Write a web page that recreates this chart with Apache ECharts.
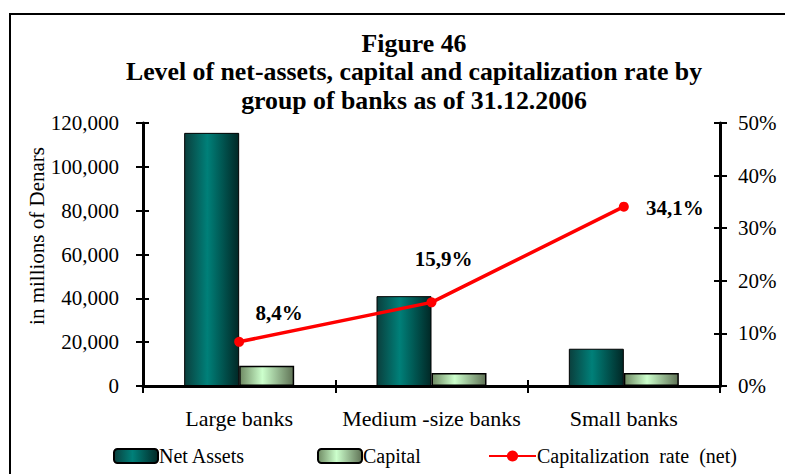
<!DOCTYPE html>
<html>
<head>
<meta charset="utf-8">
<script src="https://cdn.jsdelivr.net/npm/echarts@6/dist/echarts.min.js"></script>
<style>
  html, body { margin: 0; padding: 0; background: #fff; }
  #chart { width: 785px; height: 474px; }
</style>
</head>
<body>
<div id="chart"></div>
<script>
// data
var categories = ["Large banks", "Medium -size banks", "Small banks"];
var netAssets = [115500, 41000, 17000];
var capital = [9200, 5900, 5900];
var capRate = [8.4, 15.9, 34.1];
var rateLabelOffsets = [[40, -29], [12, -43], [51, 1]];

var serif = "'Liberation Serif', 'Times New Roman', serif";

var myChart = echarts.init(document.getElementById("chart"), null, { renderer: "svg" });

// horizontal gradient gives the cylinder look of the original bars
function shade(edgeL, mid, edgeR) {
  return new echarts.graphic.LinearGradient(0, 0, 1, 0, [
    { offset: 0, color: edgeL },
    { offset: 0.42, color: mid },
    { offset: 1, color: edgeR }
  ]);
}

var axisLineStyle = { show: true, lineStyle: { color: "#000", width: 3 } };
var tickStyle = { color: "#000", width: 2 };

var option = {
  backgroundColor: "#fff",
  animation: false,
  textStyle: { fontFamily: serif },
  graphic: [
    {
      type: "rect",
      shape: { x: 10, y: 14, width: 800, height: 480 },
      style: { fill: "none", stroke: "#000", lineWidth: 2 }
    },
    {
      type: "text",
      x: 414, y: 29,
      style: {
        text: "Figure 46\nLevel of net-assets, capital and capitalization rate by\ngroup of banks as of 31.12.2006",
        fontFamily: serif, fontSize: 25.8, fontWeight: "bold", fill: "#000",
        align: "center", verticalAlign: "top", lineHeight: 28.5
      }
    },
    {
      type: "text",
      x: 37, y: 236,
      rotation: Math.PI / 2,
      style: {
        text: "in millions of Denars",
        fontFamily: serif, fontSize: 21, fill: "#000",
        align: "center", verticalAlign: "middle"
      }
    }
  ],
  grid: { left: 143, right: 65, top: 123, bottom: 88 },
  legend: [
    {
      left: 108, top: 441, itemWidth: 44, itemHeight: 14,
      data: ["Net Assets"],
      textStyle: { fontFamily: serif, fontSize: 20, color: "#000", padding: [0, 0, 0, -4] }
    },
    {
      left: 312, top: 441, itemWidth: 44, itemHeight: 14,
      data: ["Capital"],
      textStyle: { fontFamily: serif, fontSize: 20, color: "#000", padding: [0, 0, 0, -4] }
    },
    {
      left: 483, top: 441, itemWidth: 47, itemHeight: 14,
      data: ["Capitalization  rate  (net)"],
      textStyle: { fontFamily: serif, fontSize: 20, color: "#000", padding: [0, 0, 0, -4] }
    }
  ],
  xAxis: [
    {
      type: "category",
      data: categories,
      axisLine: axisLineStyle,
      axisTick: { show: true, length: 7, lineStyle: tickStyle },
      axisLabel: { fontFamily: serif, fontSize: 22, color: "#000", margin: 21, interval: 0, hideOverlap: false }
    },
    {
      type: "category",
      data: categories,
      position: "bottom",
      axisLine: { show: false },
      axisTick: { show: true, inside: true, length: 6, lineStyle: tickStyle },
      axisLabel: { show: false }
    }
  ],
  yAxis: [
    {
      type: "value",
      min: 0, max: 120000, interval: 20000,
      position: "left",
      axisLine: axisLineStyle,
      axisTick: { show: true, length: 7, lineStyle: tickStyle },
      splitLine: { show: false },
      axisLabel: {
        fontFamily: serif, fontSize: 21, color: "#000", margin: 24,
        formatter: function (v) { return v.toLocaleString("en-US"); }
      }
    },
    {
      type: "value",
      min: 0, max: 50, interval: 10,
      position: "right",
      axisLine: axisLineStyle,
      axisTick: { show: true, length: 7, lineStyle: tickStyle },
      splitLine: { show: false },
      axisLabel: { fontFamily: serif, fontSize: 21, color: "#000", margin: 18, formatter: "{value}%" }
    },
    {
      type: "value",
      min: 0, max: 120000, interval: 20000,
      position: "left",
      axisLine: { show: false },
      axisTick: { show: true, inside: true, length: 6, lineStyle: tickStyle },
      splitLine: { show: false },
      axisLabel: { show: false }
    },
    {
      type: "value",
      min: 0, max: 50, interval: 10,
      position: "right",
      axisLine: { show: false },
      axisTick: { show: true, inside: true, length: 6, lineStyle: tickStyle },
      splitLine: { show: false },
      axisLabel: { show: false }
    }
  ],
  series: [
    {
      name: "Net Assets",
      type: "bar",
      yAxisIndex: 0,
      barWidth: 55,
      barGap: "0%",
      data: netAssets,
      itemStyle: {
        color: shade("#0a3f3d", "#008079", "#012826"),
        borderColor: "#000",
        borderWidth: 1
      }
    },
    {
      name: "Capital",
      type: "bar",
      yAxisIndex: 0,
      barWidth: 55,
      barGap: "0%",
      data: capital,
      itemStyle: {
        color: shade("#6f8a63", "#ccffcc", "#5f7255"),
        borderColor: "#000",
        borderWidth: 1.5
      }
    },
    {
      name: "Capitalization  rate  (net)",
      type: "line",
      yAxisIndex: 1,
      z: 5,
      symbol: "circle",
      symbolSize: 10,
      lineStyle: { color: "#ff0000", width: 3.5 },
      itemStyle: { color: "#ff0000" },
      data: capRate.map(function (v, i) {
        return {
          value: v,
          label: {
            show: true,
            position: "inside",
            offset: rateLabelOffsets[i],
            fontFamily: serif,
            fontSize: 21,
            fontWeight: "bold",
            color: "#000",
            formatter: function (p) { return p.value.toFixed(1).replace(".", ",") + "%"; }
          }
        };
      })
    }
  ]
};

window.onresize = myChart.resize;
myChart.setOption(option);
</script>
</body>
</html>
